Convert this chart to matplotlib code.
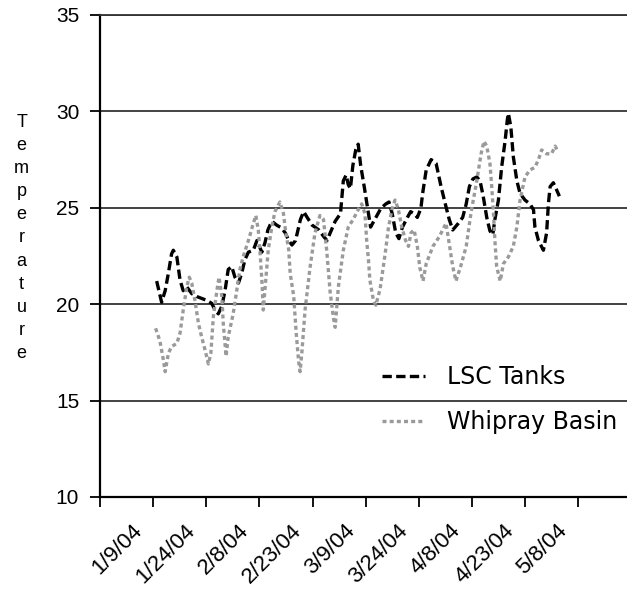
import matplotlib
matplotlib.use("Agg")
import matplotlib.pyplot as plt

# ---- data (x = days since 1/9/04) ----
lsc_days = [16.0, 17.4, 18.4, 19.3, 20.2, 20.7, 21.7, 22.6, 23.5, 24.5, 25.9, 27.3, 28.7, 30.1,
            31.5, 32.5, 33.4, 34.4, 35.3, 36.2, 37.2, 38.1, 39.1, 40.0, 40.9, 41.9, 43.3, 44.3,
            45.7, 46.6, 47.4, 48.5, 49.9, 51.3, 52.3, 53.3, 54.2, 55.2, 56.6, 57.5, 58.5, 59.9,
            61.8, 63.2, 64.1, 65.0, 66.4, 67.9, 68.7, 69.5, 70.1, 70.7, 71.4, 72.2, 72.9, 73.6,
            74.6, 75.5, 76.4, 77.9, 79.3, 80.7, 81.6, 82.5, 83.5, 84.4, 85.4, 86.8, 87.7, 88.7,
            89.6, 90.6, 91.1, 92.1, 93.5, 94.9, 96.3, 97.7, 98.6, 99.6, 101.2, 102.4, 103.4,
            104.3, 105.3, 106.4, 107.3, 108.2, 109.2, 110.1, 110.9, 111.5, 112.5, 113.4, 114.4,
            115.0, 115.3, 116.0, 116.7, 117.7, 118.6, 120.0, 121.4, 122.4, 122.8, 123.8, 125.2,
            126.1, 126.6, 127.1, 128.0, 129.0, 129.7]
lsc_temp = [21.2, 20.1, 20.7, 21.6, 22.6, 22.8, 22.45, 21.25, 20.7, 20.9, 20.55, 20.4, 20.3, 20.2,
            20.05, 19.7, 19.5, 19.9, 20.7, 21.8, 21.95, 21.4, 21.1, 21.6, 22.3, 22.7, 22.8, 23.3,
            22.7, 23.2, 23.85, 24.3, 24.1, 23.95, 23.7, 23.3, 23.07, 23.3, 24.4, 24.8, 24.5, 24.1,
            23.85, 23.5, 23.3, 23.7, 24.3, 24.7, 26.4, 26.7, 26.2, 26.0, 27.2, 28.0, 28.3, 27.2,
            26.1, 25.05, 24.0, 24.5, 24.97, 25.2, 25.3, 24.7, 23.7, 23.4, 24.0, 24.5, 24.8, 24.7,
            24.5, 24.97, 25.75, 26.96, 27.5, 27.3, 26.1, 25.05, 24.4, 23.85, 24.2, 24.5, 25.2,
            26.1, 26.5, 26.6, 26.4, 25.6, 24.5, 23.8, 23.6, 24.4, 25.4, 27.1, 28.5,
            29.55, 29.9, 29.2, 27.65, 26.4, 25.75, 25.4, 25.2, 24.9, 24.0, 23.3, 22.8,
            23.7, 25.2, 26.1, 26.3, 25.9, 25.6]

whip_days = [15.7, 16.9, 17.9, 18.4, 19.3, 20.2, 21.7, 22.6, 23.5, 24.5, 25.2, 25.9, 26.8, 27.8,
             28.7, 29.7, 30.6, 31.3, 32.0, 33.0, 33.6, 34.4, 34.8, 35.6, 36.2, 37.6, 38.6, 39.5,
             40.5, 41.9, 43.3, 44.0, 44.7, 45.2, 45.7, 46.1, 46.8, 47.5, 48.5, 49.4, 50.8, 51.8,
             52.4, 53.3, 53.7, 54.7, 55.4, 56.1, 56.5, 57.0, 57.9, 59.3, 60.7, 62.1, 63.1, 64.0,
             65.0, 65.9, 66.4, 67.3, 68.7, 70.1, 71.5, 72.9, 73.9, 74.8, 75.3, 75.8, 76.2, 77.2,
             77.9, 79.1, 80.5, 81.4, 82.4, 83.3, 84.2, 85.2, 86.3, 87.1, 87.8, 88.7, 89.6, 90.3,
             91.2, 92.1, 94.0, 95.8, 97.7, 98.6, 99.6, 100.5, 101.9, 103.4, 104.8, 106.2, 107.6,
             108.4, 109.2, 110.1, 110.6, 111.1, 111.5, 112.0, 113.0, 113.9, 115.3, 116.7, 117.7,
             118.6, 120.0, 121.4, 122.8, 123.8, 124.7, 126.1, 127.5, 128.5, 129.4]
whip_temp = [18.75, 18.1, 17.1, 16.5, 17.45, 17.8, 17.97, 18.5, 19.7, 20.9, 21.4, 21.1, 20.2, 19.0,
             18.3, 17.6, 16.9, 17.45, 19.35, 20.7, 21.4, 20.4, 19.0, 17.3, 18.3, 19.5, 20.7, 21.8,
             22.5, 23.3, 24.2, 24.6, 23.85, 22.65, 21.25, 19.7, 21.25, 22.8, 24.0, 24.8, 25.3, 24.7,
             23.8, 22.8, 21.6, 20.4, 18.5, 17.0, 16.5, 17.5, 19.7, 21.9, 23.7, 24.6, 24.4, 22.8,
             20.6, 19.3, 18.8, 20.9, 22.8, 24.0, 24.4, 24.9, 25.2, 24.7, 23.3, 22.3, 21.25, 20.2,
             19.95, 20.8, 22.6, 23.9, 24.9, 25.4, 24.95, 24.0, 23.3, 23.0, 23.7, 23.85, 23.0, 21.9,
             21.2, 22.1, 23.0, 23.5, 24.2, 23.15, 21.95, 21.2, 22.0, 23.0, 24.8, 26.2, 27.8,
             28.45, 28.2, 27.3, 26.1, 24.7, 23.3, 21.95, 21.2, 22.1, 22.45, 23.0, 24.0,
             25.4, 26.6, 26.96, 27.1, 27.5, 28.0, 27.8, 27.8, 28.2, 27.9]

tick_days = [0, 15, 30, 45, 60, 75, 90, 105, 120, 135]
label_days = [11, 26, 41, 56, 71, 86, 101, 116, 131]
tick_labels = ["1/9/04", "1/24/04", "2/8/04", "2/23/04", "3/9/04", "3/24/04",
               "4/8/04", "4/23/04", "5/8/04"]
y_ticks = [10, 15, 20, 25, 30, 35]
series_names = ["LSC Tanks", "Whipray Basin"]
ylabel = "Temperature"

W, H = 627, 593
fig = plt.figure(figsize=(W / 100, H / 100), dpi=100)
ax = fig.add_axes([100 / W, 1 - 497 / H, 527 / W, 482 / H])

ax.plot(lsc_days, lsc_temp, color="black", lw=2.4, dashes=(2.8, 1.3),
        label=series_names[0], dash_capstyle="butt")
ax.plot(whip_days, whip_temp, color="#9a9a9a", lw=2.4, dashes=(1.2, 0.95),
        label=series_names[1], dash_capstyle="butt")

ax.set_xlim(0, 148.8)
ax.set_ylim(10, 35)

ax.spines["right"].set_visible(False)
ax.spines["top"].set_color("#333333")
ax.spines["top"].set_linewidth(1.3)
for s in ["left", "bottom"]:
    ax.spines[s].set_color("black")
    ax.spines[s].set_linewidth(1.6)

ax.set_yticks(y_ticks)
ax.set_yticklabels([str(v) for v in y_ticks], fontsize=15, family="Liberation Sans")
ax.yaxis.grid(True, color="#222222", lw=1.2)
ax.set_axisbelow(True)
ax.tick_params(axis="y", length=7, width=1.3, pad=8, direction="out", color="black")

ax.set_xticks(tick_days)
ax.set_xticklabels([])
ax.tick_params(axis="x", which="major", length=7, width=1.3, direction="out", color="black")
ax.set_xticks(label_days, minor=True)
ax.set_xticklabels(tick_labels, minor=True, fontsize=16, family="Liberation Sans")
ax.tick_params(axis="x", which="minor", length=0, pad=22)
for t in ax.get_xticklabels(minor=True):
    t.set_rotation(45)
    t.set_ha("right")
    t.set_va("center")
    t.set_rotation_mode("anchor")

# vertical stacked y label
for i, ch in enumerate(ylabel):
    fig.text(21.7 / W, 1 - (127 + 23.1 * i) / H, ch, ha="center", va="baseline",
             fontsize=13, family="Liberation Sans")

leg = ax.legend(loc="upper left", bbox_to_anchor=(382 / W, 1 - 365 / H),
                bbox_transform=fig.transFigure, frameon=False,
                handlelength=1.8, handletextpad=0.95, labelspacing=0.88,
                borderpad=0, borderaxespad=0, prop={"family": "DejaVu Sans", "size": 17})

fig.savefig("out.png", dpi=100)
